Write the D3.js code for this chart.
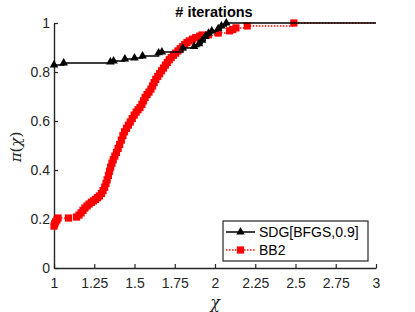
<!DOCTYPE html>
<html>
<head>
<meta charset="utf-8">
<script src="https://cdn.jsdelivr.net/npm/d3@7"></script>
<style>
  body { margin: 0; background: #fff; }
  text { font-family: "Liberation Sans", Arial, sans-serif; }
</style>
</head>
<body>
<script>
// performance profile: fraction of problems solved within factor chi of the best

var xTicks = [1, 1.25, 1.5, 1.75, 2, 2.25, 2.5, 2.75, 3]
var yTicks = [0, 0.2, 0.4, 0.6, 0.8, 1]

var seriesNames = ["SDG[BFGS,0.9]", "BB2"]

// [chi, pi(chi)]
var sdgData = [[1.00,0.829],[1.06,0.837],[1.35,0.841],[1.37,0.845],[1.44,0.853],
               [1.50,0.857],[1.55,0.865],[1.65,0.878],[1.67,0.882],[1.80,0.898],
               [1.87,0.904],[1.90,0.915],[1.92,0.930],[1.94,0.945],[1.96,0.958],
               [1.98,0.967],[2.02,0.977],[2.04,0.988],[2.07,1.000]]

var bb2Data = [[1.000,0.171],[1.004,0.180],[1.010,0.188],[1.018,0.196],[1.025,0.204],
               [1.090,0.204],[1.140,0.208],[1.155,0.216],[1.168,0.225],[1.180,0.235],
               [1.192,0.245],[1.205,0.253],[1.218,0.261],[1.232,0.268],[1.245,0.274],
               [1.258,0.280],[1.270,0.287],[1.282,0.294],[1.295,0.304],[1.305,0.316],
               [1.315,0.330],[1.323,0.345],[1.330,0.360],[1.338,0.378],[1.345,0.395],
               [1.352,0.412],[1.360,0.428],[1.368,0.442],[1.378,0.457],[1.388,0.472],
               [1.398,0.488],[1.408,0.504],[1.418,0.522],[1.428,0.540],[1.438,0.556],
               [1.450,0.570],[1.462,0.583],[1.474,0.596],[1.486,0.610],[1.498,0.624],
               [1.510,0.636],[1.522,0.646],[1.534,0.655],[1.546,0.668],[1.556,0.682],
               [1.566,0.696],[1.578,0.708],[1.590,0.718],[1.602,0.730],[1.612,0.743],
               [1.622,0.757],[1.632,0.770],[1.644,0.782],[1.656,0.793],[1.668,0.805],
               [1.680,0.816],[1.692,0.828],[1.704,0.839],[1.716,0.850],[1.728,0.859],
               [1.742,0.868],[1.756,0.877],[1.770,0.886],[1.784,0.895],[1.798,0.903],
               [1.812,0.912],[1.826,0.920],[1.840,0.927],[1.860,0.934],[1.880,0.940],
               [1.905,0.946],[1.920,0.951],[1.960,0.952],[2.020,0.959],[2.090,0.968],
               [2.110,0.973],[2.130,0.980],[2.200,0.988],[2.490,1.000]]

var xMax = 3   // both curves run flat at 1 up to the right edge

var screen = {width: 415, height: 312}
var margins = {top: 23, bottom: 44, left: 54, right: 39}

var width = screen.width - margins.left - margins.right
var height = screen.height - margins.top - margins.bottom

var ink = "#262626"

var xScale = d3.scaleLinear()
                .domain([1, 3])
                .range([0, width])

var yScale = d3.scaleLinear()
                .domain([0, 1])
                .range([height, 0])

var svg = d3.select("body")
    .append("svg")
    .attr("width", screen.width)
    .attr("height", screen.height)

var plot = svg.append("g")
    .attr("transform", "translate(" + margins.left + "," + margins.top + ")")

var xAxis = d3.axisBottom(xScale)
    .tickValues(xTicks)
    .tickFormat(d3.format("~g"))
    .tickSizeInner(-4)
    .tickSizeOuter(0)
    .tickPadding(10)

var yAxis = d3.axisLeft(yScale)
    .tickValues(yTicks)
    .tickFormat(d3.format("~g"))
    .tickSizeInner(-4)
    .tickSizeOuter(0)
    .tickPadding(4)

var styleAxis = function(g)
{
    g.select(".domain").attr("stroke", ink).attr("stroke-width", 1.4)
    g.selectAll(".tick line").attr("stroke", ink).attr("stroke-width", 1.2)
    g.selectAll(".tick text")
        .attr("fill", ink)
        .style("font-size", "14px")
        .style("font-family", "'Liberation Sans', Arial, sans-serif")
}

plot.append("g")
    .attr("transform", "translate(0," + height + ")")
    .call(xAxis)
    .call(styleAxis)

plot.append("g")
    .call(yAxis)
    .call(styleAxis)

var stepLine = d3.line()
    .curve(d3.curveStepAfter)
    .x(function(d) { return xScale(d[0]) })
    .y(function(d) { return yScale(d[1]) })

var tri = d3.symbol().type(d3.symbolTriangle).size(32)
var sq = d3.symbol().type(d3.symbolSquare).size(52)

// BB2 first so SDG sits on top where they overlap
plot.append("path")
    .datum(bb2Data.concat([[xMax, 1]]))
    .attr("d", stepLine)
    .attr("fill", "none")
    .attr("stroke", "#ff0000")
    .attr("stroke-width", 1.5)
    .attr("stroke-dasharray", "1.5,1.5")

plot.selectAll("path.bb2")
    .data(bb2Data)
    .enter()
    .append("path")
    .attr("class", "bb2")
    .attr("d", sq)
    .attr("transform", function(d) { return "translate(" + xScale(d[0]) + "," + yScale(d[1]) + ")" })
    .attr("fill", "#ff0000")

plot.append("path")
    .datum(sdgData.concat([[xMax, 1]]))
    .attr("d", stepLine)
    .attr("fill", "none")
    .attr("stroke", "#000")
    .attr("stroke-width", 1.5)

plot.selectAll("path.sdg")
    .data(sdgData)
    .enter()
    .append("path")
    .attr("class", "sdg")
    .attr("d", tri)
    .attr("transform", function(d) { return "translate(" + xScale(d[0]) + "," + yScale(d[1]) + ")" })
    .attr("fill", "#000")

// title and axis labels
svg.append("text")
    .attr("x", 214)
    .attr("y", 17)
    .attr("text-anchor", "middle")
    .style("font-weight", "bold")
    .style("font-size", "14.5px")
    .text("# iterations")

svg.append("text")
    .attr("x", margins.left + width / 2)
    .attr("y", 308)
    .attr("text-anchor", "middle")
    .style("font-family", "'DejaVu Serif', serif")
    .style("font-style", "italic")
    .style("font-size", "16px")
    .attr("fill", ink)
    .text("χ")

svg.append("text")
    .attr("transform", "translate(21,147) rotate(-90)")
    .attr("text-anchor", "middle")
    .style("font-family", "'DejaVu Serif', serif")
    .style("font-size", "15px")
    .attr("fill", ink)
    .html("<tspan font-style='italic'>π</tspan>(<tspan font-style='italic'>χ</tspan>)")

// legend
var legend = svg.append("g")
    .attr("transform", "translate(223,221)")

legend.append("rect")
    .attr("width", 145)
    .attr("height", 40)
    .attr("fill", "#fff")
    .attr("stroke", ink)
    .attr("stroke-width", 1.2)

var legendRows = [
    {name: seriesNames[0], color: "#000", dash: null, sym: tri},
    {name: seriesNames[1], color: "#ff0000", dash: "1.5,1.5", sym: sq}
]

legendRows.forEach(function(r, i)
{
    var y = 11 + i * 18
    legend.append("line")
        .attr("x1", 3).attr("x2", 32)
        .attr("y1", y).attr("y2", y)
        .attr("stroke", r.color)
        .attr("stroke-width", 1.5)
        .attr("stroke-dasharray", r.dash)
    legend.append("path")
        .attr("d", r.sym)
        .attr("transform", "translate(17.5," + y + ")")
        .attr("fill", r.color)
    legend.append("text")
        .attr("x", 36)
        .attr("y", y + 5)
        .style("font-size", "14px")
        .attr("fill", "#000")
        .text(r.name)
})
</script>
</body>
</html>
